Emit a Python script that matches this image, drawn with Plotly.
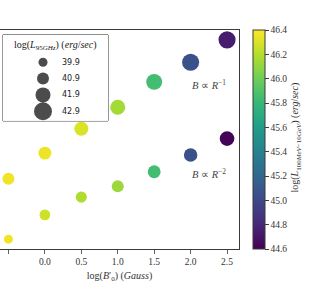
import plotly.graph_objects as go

# ---- data ----
log_B0 = [-0.5, 0.0, 0.5, 1.0, 1.5, 2.0, 2.5]

# B ∝ R^-1 series
y_r1 = [3.21, 4.38, 5.49, 6.47, 7.63, 8.53, 9.55]
lgam_r1 = [46.36, 46.35, 46.30, 46.15, 45.85, 45.05, 44.75]
l95_r1 = [40.9, 41.2, 41.6, 41.9, 42.2, 42.6, 42.6]

# B ∝ R^-2 series
y_r2 = [0.45, 1.56, 2.37, 2.86, 3.53, 4.29, 5.04]
lgam_r2 = [46.36, 46.27, 46.18, 46.13, 45.85, 45.05, 44.62]
l95_r2 = [39.9, 40.5, 40.6, 40.9, 41.2, 41.4, 41.8]

legend_l95 = [39.9, 40.9, 41.9, 42.9]
x_ticks = [-0.5, 0.0, 0.5, 1.0, 1.5, 2.0, 2.5]

# ---- styling helpers ----
SERIF = "Liberation Serif"
AX = "#3a3a3a"


def size_of(l):
    return 9 + 3 * (l - 39.9)


W, H = 334, 283
ML, MR, MT, MB = 0, 95, 30, 29
PW = W - ML - MR
PH = H - MT - MB

fig = go.Figure()

for yy, cc, ll in [(y_r1, lgam_r1, l95_r1), (y_r2, lgam_r2, l95_r2)]:
    fig.add_trace(go.Scatter(
        x=log_B0, y=yy, mode="markers",
        marker=dict(size=[size_of(v) for v in ll], color=cc, coloraxis="coloraxis",
                    line=dict(width=0), opacity=1),
        showlegend=False, hoverinfo="skip", cliponaxis=False,
    ))

# manual size legend on its own small axes
lx0, lx1, ly0, ly1 = 3, 108, 35, 123  # pixel box
n = len(legend_l95)
ys_leg = [60 - i * 16.7 for i in range(n)]
fig.add_trace(go.Scatter(
    x=[40] * n, y=ys_leg, mode="markers", xaxis="x2", yaxis="y2",
    marker=dict(size=[size_of(v) for v in legend_l95], color="black", line=dict(width=0)),
    showlegend=False, hoverinfo="skip", cliponaxis=False,
))

annotations = []
for v, yv in zip(legend_l95, ys_leg):
    annotations.append(dict(x=57, y=yv, xref="x2", yref="y2", text=f"{v:.1f}",
                            showarrow=False, xanchor="left", yanchor="middle",
                            font=dict(family="DejaVu Sans", size=8, color="#222")))
annotations.append(dict(x=52, y=77, xref="x2", yref="y2",
                        text="log(<i>L</i><sub>95<i>GHz</i></sub>) (<i>erg</i>/<i>sec</i>)",
                        showarrow=False, xanchor="center", yanchor="middle",
                        font=dict(family=SERIF, size=10, color="#222")))
annotations.append(dict(x=2.25, y=7.5, xref="x", yref="y",
                        text="<i>B</i> ∝ <i>R</i><sup>−1</sup>", showarrow=False,
                        font=dict(family=SERIF, size=10.5, color="#444")))
annotations.append(dict(x=2.25, y=3.45, xref="x", yref="y",
                        text="<i>B</i> ∝ <i>R</i><sup>−2</sup>", showarrow=False,
                        font=dict(family=SERIF, size=10.5, color="#444")))
# colour-bar label, placed beside the bar
annotations.append(dict(x=296 / PW, y=(MT + PH - 140) / PH, xref="paper", yref="paper",
                        text="log(<i>L</i><sub>100<i>MeV</i>−10<i>GeV</i></sub>) (<i>erg</i>/<i>sec</i>)",
                        textangle=-90, showarrow=False, xanchor="center", yanchor="middle",
                        font=dict(family=SERIF, size=10, color="#333")))

fig.update_layout(
    width=W, height=H,
    margin=dict(l=ML, r=MR, t=MT, b=MB, pad=0),
    paper_bgcolor="white", plot_bgcolor="white",
    showlegend=False,
    xaxis=dict(range=[-0.616, 2.664], tickvals=x_ticks, tickformat=".1f",
               ticks="outside", ticklen=3.5, tickwidth=0.8, tickcolor=AX,
               showline=True, linecolor=AX, linewidth=1, mirror=True,
               showgrid=False, zeroline=False,
               tickfont=dict(family=SERIF, size=9.5, color="#333"),
               title=dict(text="log(<i>B</i>′<sub>0</sub>) (<i>Gauss</i>)", standoff=9,
                          font=dict(family=SERIF, size=10, color="#333"))),
    yaxis=dict(range=[0, 10], side="right", showline=True, linecolor=AX, linewidth=1,
               showticklabels=False, ticks="", showgrid=False, zeroline=False),
    xaxis2=dict(domain=[lx0 / PW, lx1 / PW], range=[0, lx1 - lx0], anchor="y2",
                visible=False, fixedrange=True),
    yaxis2=dict(domain=[(MT + PH - ly1) / PH, (MT + PH - ly0) / PH], range=[0, ly1 - ly0],
                anchor="x2", visible=False, fixedrange=True),
    coloraxis=dict(
        colorscale="Viridis", cmin=44.6, cmax=46.4,
        colorbar=dict(
            x=253 / PW, xanchor="left", xpad=0, y=0.5, yanchor="middle", ypad=0,
            len=1, lenmode="fraction", thickness=12,
            outlinewidth=1, outlinecolor=AX,
            tick0=44.6, dtick=0.2, tickformat=".1f",
            ticks="outside", ticklen=3.5, tickcolor=AX,
            tickfont=dict(family=SERIF, size=9.5, color="#333"),
        ),
    ),
    shapes=[dict(type="rect", xref="paper", yref="paper",
                 x0=lx0 / PW, x1=lx1 / PW,
                 y0=(MT + PH - ly1) / PH, y1=(MT + PH - ly0) / PH,
                 line=dict(color="#333", width=1), fillcolor="white", layer="below")],
    annotations=annotations,
)

fig.write_html(
    "out.html",
    config={"displayModeBar": False, "staticPlot": True},
    post_script="document.body.style.margin='0';document.body.style.padding='0';",
)
